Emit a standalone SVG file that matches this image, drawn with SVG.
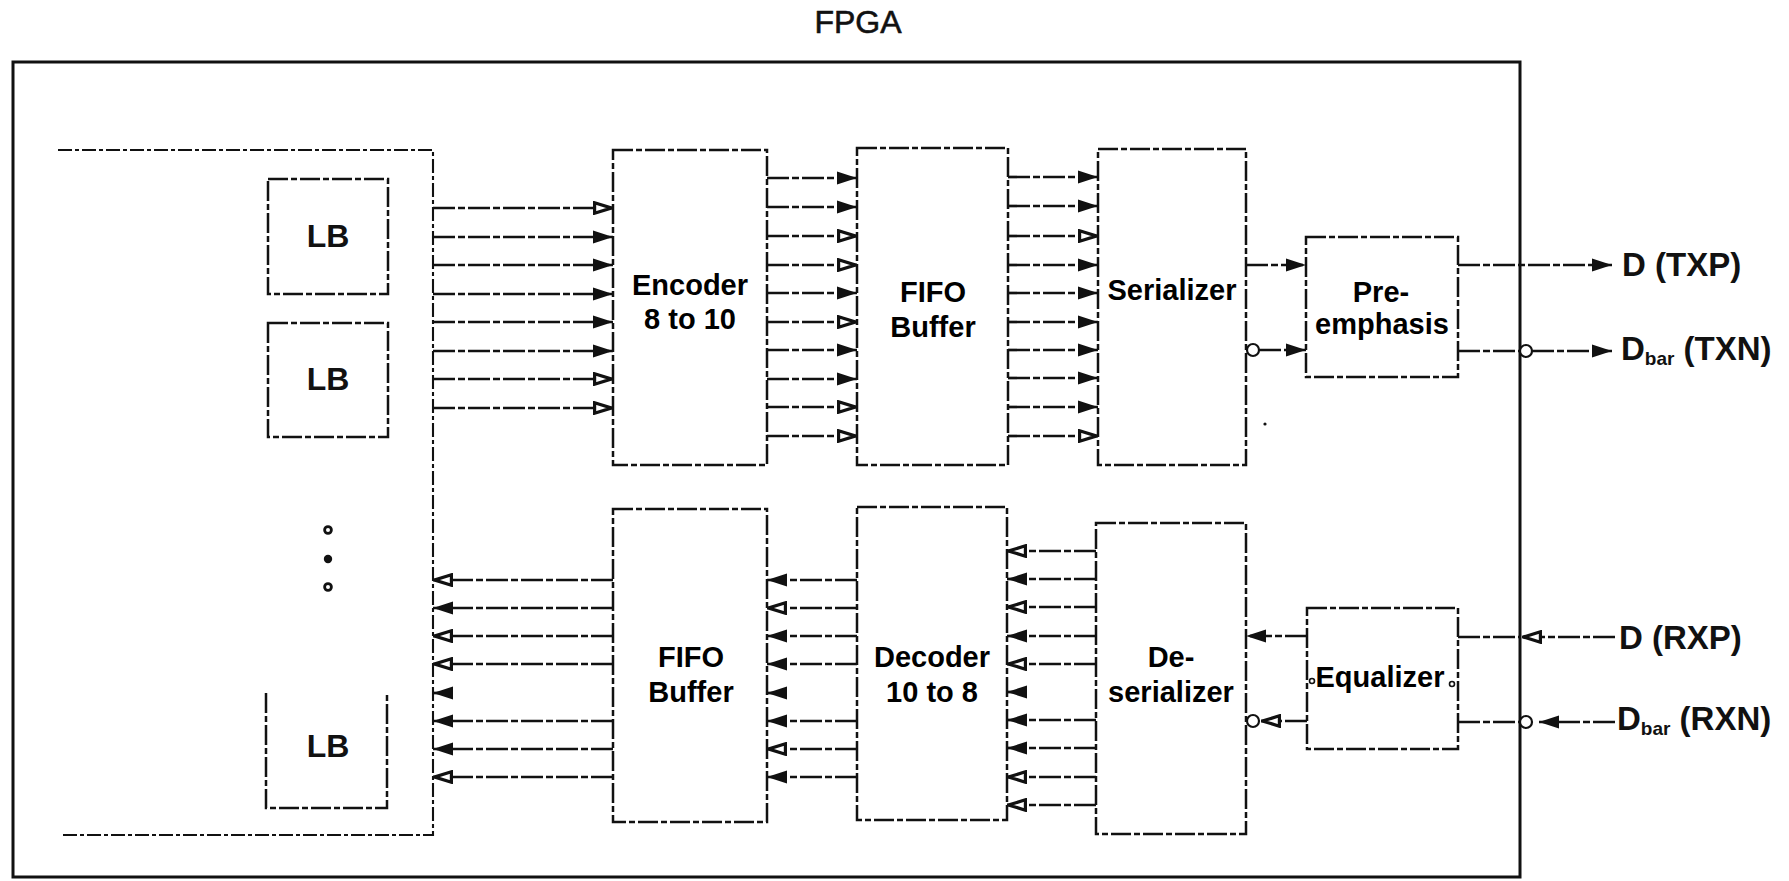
<svg xmlns="http://www.w3.org/2000/svg" width="1789" height="881" viewBox="0 0 1789 881">
<style>
.outer{fill:none;stroke:#111;stroke-width:3}
.box{fill:none;stroke:#111;stroke-width:2.5;stroke-dasharray:20 3 6 3}
.cont{fill:none;stroke:#111;stroke-width:2.1;stroke-dasharray:14 3 4 3}
.w{fill:none;stroke:#111;stroke-width:2.7;stroke-dasharray:22 3 7 3}
.wf{fill:none;stroke:#111;stroke-width:2.7;stroke-dasharray:22 3 7 3;marker-end:url(#af)}
.wo{fill:none;stroke:#111;stroke-width:2.7;stroke-dasharray:22 3 7 3;marker-end:url(#ao)}
.inv{fill:#fff;stroke:#111;stroke-width:2.2}
.lbl{font-family:"Liberation Sans",Arial,sans-serif;font-weight:bold;font-size:29px;fill:#000;text-anchor:middle}
.scan{font-family:"Liberation Sans",Arial,sans-serif;font-weight:bold;fill:#111}
</style>
<defs>
<marker id="af" viewBox="0 0 20 14" refX="20" refY="7" markerWidth="20" markerHeight="14" markerUnits="userSpaceOnUse" orient="auto"><path d="M0,0.5 L20,7 L0,13.5 z" fill="#111"/></marker>
<marker id="ao" viewBox="0 0 20 14" refX="20" refY="7" markerWidth="20" markerHeight="14" markerUnits="userSpaceOnUse" orient="auto"><path d="M1.6,1.8 L18.3,7 L1.6,12.2 z" fill="#fff" stroke="#111" stroke-width="3.2"/></marker>
</defs>
<rect width="1789" height="881" fill="#fff"/>

<g id="fpga">
<rect class="outer" x="13" y="62" width="1507" height="815"/>
<text x="858" y="33" font-family="Liberation Sans, Arial, sans-serif" font-size="32" fill="#111" text-anchor="middle" stroke="#111" stroke-width="0.6">FPGA</text>
</g>

<g id="lb-array">
<path class="cont" d="M58,150 H433 V835 H60"/>
</g>
<g id="lb1">
<rect class="box" x="268" y="179" width="120" height="115"/>
<text class="scan" x="328" y="247" font-size="32" text-anchor="middle">LB</text>
</g>
<g id="lb2">
<rect class="box" x="268" y="323" width="120" height="114"/>
<text class="scan" x="328" y="390" font-size="32" text-anchor="middle">LB</text>
</g>
<g id="ellipsis">
<circle cx="328" cy="530" r="3.4" fill="#fff" stroke="#111" stroke-width="2.8"/>
<circle cx="328" cy="559" r="4.2" fill="#111"/>
<circle cx="328" cy="587" r="3.4" fill="#fff" stroke="#111" stroke-width="2.8"/>
</g>
<g id="lb3">
<path class="box" d="M266,693 V808 H387 V695"/>
<text class="scan" x="328" y="757" font-size="32" text-anchor="middle">LB</text>
</g>

<g id="encoder">
<rect class="box" x="613" y="150" width="154" height="315"/>
<text class="lbl" x="690" y="295">Encoder</text>
<text class="lbl" x="690" y="329">8 to 10</text>
</g>
<g id="fifo-tx">
<rect class="box" x="857" y="148" width="151" height="317"/>
<text class="lbl" x="933" y="302">FIFO</text>
<text class="lbl" x="933" y="337">Buffer</text>
</g>
<g id="serializer">
<rect class="box" x="1098" y="149" width="148" height="316"/>
<text class="lbl" x="1172" y="300">Serializer</text>
</g>
<g id="preemphasis">
<rect class="box" x="1306" y="237" width="152" height="140"/>
<text class="lbl" x="1381" y="302">Pre-</text>
<text class="lbl" x="1382" y="334">emphasis</text>
</g>

<g id="fifo-rx">
<rect class="box" x="613" y="509" width="154" height="313"/>
<text class="lbl" x="691" y="667">FIFO</text>
<text class="lbl" x="691" y="702">Buffer</text>
</g>
<g id="decoder">
<rect class="box" x="857" y="507" width="150" height="313"/>
<text class="lbl" x="932" y="667">Decoder</text>
<text class="lbl" x="932" y="702">10 to 8</text>
</g>
<g id="deserializer">
<rect class="box" x="1096" y="523" width="150" height="311"/>
<text class="lbl" x="1171" y="667">De-</text>
<text class="lbl" x="1171" y="702">serializer</text>
</g>
<g id="equalizer">
<rect class="box" x="1307" y="608" width="151" height="141"/>
<text class="lbl" x="1380" y="687">Equalizer</text>
<circle cx="1312" cy="681" r="2.5" fill="none" stroke="#111" stroke-width="1.6"/>
<circle cx="1452" cy="684" r="2.5" fill="none" stroke="#111" stroke-width="1.6"/>
</g>

<g id="ports">
<text class="scan" x="1622" y="276" font-size="33">D (TXP)</text>
<text class="scan" x="1621" y="360" font-size="33">D<tspan font-size="19" dy="5">bar</tspan><tspan dy="-5"> (TXN)</tspan></text>
<text class="scan" x="1619" y="649" font-size="33">D (RXP)</text>
<text class="scan" x="1617" y="730" font-size="33">D<tspan font-size="19" dy="5">bar</tspan><tspan dy="-5"> (RXN)</tspan></text>
</g>

<g id="connectors">
<!-- LB -> Encoder -->
<line class="wo" x1="433" y1="208" x2="613" y2="208"/>
<line class="wf" x1="433" y1="237" x2="613" y2="237"/>
<line class="wf" x1="433" y1="265" x2="613" y2="265"/>
<line class="wf" x1="433" y1="294" x2="613" y2="294"/>
<line class="wf" x1="433" y1="322" x2="613" y2="322"/>
<line class="wf" x1="433" y1="351" x2="613" y2="351"/>
<line class="wo" x1="433" y1="379" x2="613" y2="379"/>
<line class="wo" x1="433" y1="408" x2="613" y2="408"/>
<!-- Encoder -> FIFO -->
<line class="wf" x1="767" y1="178" x2="857" y2="178"/>
<line class="wf" x1="767" y1="207" x2="857" y2="207"/>
<line class="wo" x1="767" y1="236" x2="857" y2="236"/>
<line class="wo" x1="767" y1="265" x2="857" y2="265"/>
<line class="wf" x1="767" y1="293" x2="857" y2="293"/>
<line class="wo" x1="767" y1="322" x2="857" y2="322"/>
<line class="wf" x1="767" y1="350" x2="857" y2="350"/>
<line class="wf" x1="767" y1="379" x2="857" y2="379"/>
<line class="wo" x1="767" y1="407" x2="857" y2="407"/>
<line class="wo" x1="767" y1="436" x2="857" y2="436"/>
<!-- FIFO -> Serializer -->
<line class="wf" x1="1008" y1="177" x2="1098" y2="177"/>
<line class="wf" x1="1008" y1="206" x2="1098" y2="206"/>
<line class="wo" x1="1008" y1="236" x2="1098" y2="236"/>
<line class="wf" x1="1008" y1="265" x2="1098" y2="265"/>
<line class="wf" x1="1008" y1="293" x2="1098" y2="293"/>
<line class="wf" x1="1008" y1="322" x2="1098" y2="322"/>
<line class="wf" x1="1008" y1="350" x2="1098" y2="350"/>
<line class="wf" x1="1008" y1="378" x2="1098" y2="378"/>
<line class="wf" x1="1008" y1="407" x2="1098" y2="407"/>
<line class="wo" x1="1008" y1="436" x2="1098" y2="436"/>
<!-- Serializer -> Pre-emphasis -->
<line class="wf" x1="1246" y1="265" x2="1306" y2="265"/>
<circle class="inv" cx="1253" cy="350" r="6"/>
<line class="wf" x1="1259" y1="350" x2="1306" y2="350"/>
<!-- Pre-emphasis -> outputs -->
<line class="wf" x1="1458" y1="265" x2="1612" y2="265"/>
<line class="w" x1="1458" y1="351" x2="1520" y2="351"/>
<circle class="inv" cx="1526" cy="351" r="6"/>
<line class="wf" x1="1532" y1="351" x2="1612" y2="351"/>
<!-- FIFO -> LB -->
<line class="wo" x1="613" y1="580" x2="433" y2="580"/>
<line class="wf" x1="613" y1="608" x2="433" y2="608"/>
<line class="wo" x1="613" y1="636" x2="433" y2="636"/>
<line class="wo" x1="613" y1="664" x2="433" y2="664"/>
<line class="wf" x1="453" y1="693" x2="433" y2="693"/>
<line class="wf" x1="613" y1="721" x2="433" y2="721"/>
<line class="wf" x1="613" y1="749" x2="433" y2="749"/>
<line class="wo" x1="613" y1="777" x2="433" y2="777"/>
<!-- Decoder -> FIFO -->
<line class="wf" x1="857" y1="580" x2="767" y2="580"/>
<line class="wo" x1="857" y1="608" x2="767" y2="608"/>
<line class="wf" x1="857" y1="636" x2="767" y2="636"/>
<line class="wf" x1="857" y1="664" x2="767" y2="664"/>
<line class="wf" x1="787" y1="693" x2="767" y2="693"/>
<line class="wf" x1="857" y1="721" x2="767" y2="721"/>
<line class="wo" x1="857" y1="749" x2="767" y2="749"/>
<line class="wf" x1="857" y1="777" x2="767" y2="777"/>
<!-- Deserializer -> Decoder -->
<line class="wo" x1="1096" y1="551" x2="1007" y2="551"/>
<line class="wf" x1="1096" y1="579" x2="1007" y2="579"/>
<line class="wo" x1="1096" y1="607" x2="1007" y2="607"/>
<line class="wf" x1="1096" y1="636" x2="1007" y2="636"/>
<line class="wo" x1="1096" y1="664" x2="1007" y2="664"/>
<line class="wf" x1="1027" y1="692" x2="1007" y2="692"/>
<line class="wf" x1="1096" y1="720" x2="1007" y2="720"/>
<line class="wf" x1="1096" y1="748" x2="1007" y2="748"/>
<line class="wo" x1="1096" y1="777" x2="1007" y2="777"/>
<line class="wo" x1="1096" y1="805" x2="1007" y2="805"/>
<!-- Equalizer -> Deserializer -->
<line class="wf" x1="1307" y1="636" x2="1246" y2="636"/>
<circle class="inv" cx="1253" cy="721" r="6"/>
<line class="wo" x1="1307" y1="721" x2="1261" y2="721"/>
<!-- inputs -> Equalizer -->
<line class="w" x1="1458" y1="637" x2="1520" y2="637"/>
<line class="wo" x1="1615" y1="637" x2="1522" y2="637"/>
<line class="w" x1="1458" y1="722" x2="1520" y2="722"/>
<circle class="inv" cx="1526" cy="722" r="6"/>
<line class="wf" x1="1615" y1="722" x2="1539" y2="722"/>
</g>
<circle cx="1265" cy="424" r="1.6" fill="#111"/>
</svg>
